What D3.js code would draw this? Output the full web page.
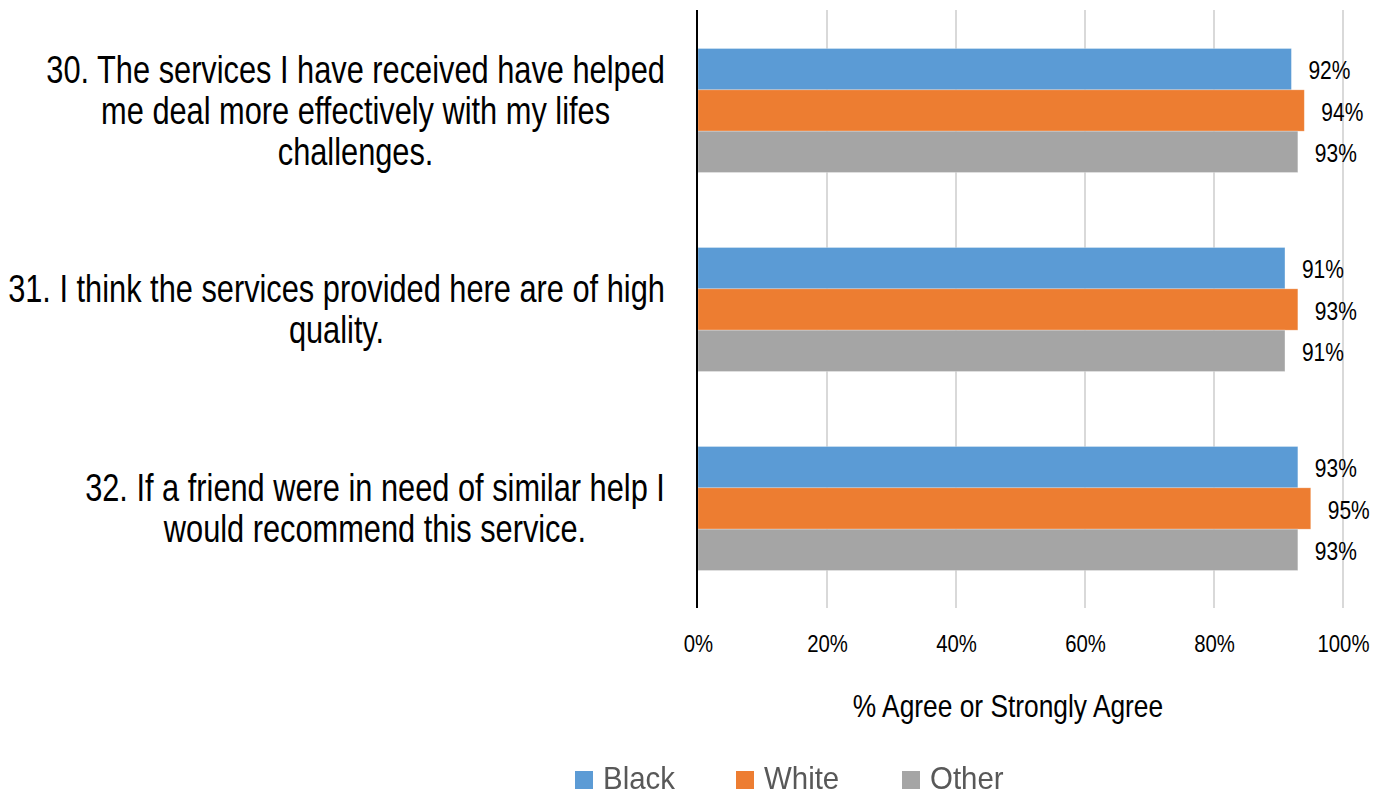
<!DOCTYPE html>
<html>
<head>
<meta charset="utf-8">
<script src="https://cdn.jsdelivr.net/npm/d3@7"></script>
<style>
  html, body { margin: 0; padding: 0; background: #fff; }
  svg { display: block; }
  text { font-family: "Liberation Sans", Arial, sans-serif; }
</style>
</head>
<body>
<svg id="chart" width="1376" height="795"></svg>
<script>
// Survey statements and their wrapped lines
const categories = [
  "30. The services I have received have helped me deal more effectively with my lifes challenges.",
  "31. I think the services provided here are of high quality.",
  "32. If a friend were in need of similar help I would recommend this service."
];
const categoryLines = [
  ["30. The services I have received have helped", "me deal more effectively with my lifes", "challenges."],
  ["31. I think the services provided here are of high", "quality."],
  ["32. If a friend were in need of similar help I", "would recommend this service."]
];
const seriesNames = ["Black", "White", "Other"];
const blackValues = [92, 91, 93];
const whiteValues = [94, 93, 95];
const otherValues = [93, 91, 93];
const seriesColors = ["#5B9BD5", "#ED7D31", "#A5A5A5"];
const tickValues = [0, 20, 40, 60, 80, 100];
const axisTitle = "% Agree or Strongly Agree";

const seriesValues = [blackValues, whiteValues, otherValues];
const rows = categories.map((c, i) => ({
  category: c,
  lines: categoryLines[i],
  values: seriesNames.map((s, j) => ({ series: s, value: seriesValues[j][i], color: seriesColors[j] }))
}));

// Condensed type: glyphs are squeezed horizontally to give a narrow face
const squeeze = k => k;

const svg = d3.select("#chart");

const plot = { left: 698, right: 1343, top: 11, bottom: 608 };

const x = d3.scaleLinear().domain([0, 100]).range([plot.left, plot.right]);
const y0 = d3.scaleBand().domain(categories).range([plot.top, plot.bottom])
  .paddingInner(0.377).paddingOuter(0.1885);
const y1 = d3.scaleBand().domain(seriesNames).range([0, y0.bandwidth()]);

// Vertical gridlines
svg.append("g")
  .selectAll("line")
  .data(tickValues.filter(t => t > 0))
  .join("line")
  .attr("x1", d => x(d)).attr("x2", d => x(d))
  .attr("y1", plot.top - 1).attr("y2", plot.bottom)
  .attr("stroke", "#d9d9d9")
  .attr("stroke-width", 2);

// Bars
const groups = svg.append("g")
  .selectAll("g")
  .data(rows)
  .join("g")
  .attr("transform", d => `translate(0,${y0(d.category)})`);

groups.selectAll("rect")
  .data(d => d.values)
  .join("rect")
  .attr("x", x(0))
  .attr("y", d => y1(d.series))
  .attr("width", d => x(d.value) - x(0))
  .attr("height", y1.bandwidth())
  .attr("fill", d => d.color)
  .attr("stroke", "#ffffff")
  .attr("stroke-opacity", 0.35)
  .attr("stroke-width", 0.75);

// Value labels
groups.selectAll("g.val")
  .data(d => d.values)
  .join("g")
  .attr("class", "val")
  .attr("transform", d => `translate(${x(d.value) + 17},${y1(d.series) + y1.bandwidth() / 2 + 10}) scale(${squeeze(0.84)},1)`)
  .append("text")
  .attr("font-size", 25)
  .attr("fill", "#000")
  .text(d => d.value + "%");

// Category axis line
svg.append("line")
  .attr("x1", plot.left - 1).attr("x2", plot.left - 1)
  .attr("y1", plot.top - 1).attr("y2", plot.bottom)
  .attr("stroke", "#000")
  .attr("stroke-width", 2);

// Bottom tick labels
const xAxis = d3.axisBottom(x)
  .tickValues(tickValues)
  .tickFormat(d => d + "%")
  .tickSize(0)
  .tickPadding(0);
const xg = svg.append("g")
  .attr("transform", `translate(0,${plot.bottom})`)
  .call(xAxis);
xg.select(".domain").remove();
xg.attr("font-family", null).attr("font-size", null);
xg.selectAll("text")
  .attr("dy", null)
  .attr("y", 0)
  .attr("transform", `translate(0,43.5) scale(${squeeze(0.83)},1)`)
  .attr("font-size", 24.5)
  .attr("fill", "#000");

// Axis title
svg.append("text")
  .attr("transform", `translate(1008,717) scale(${squeeze(0.85)},1)`)
  .attr("text-anchor", "middle")
  .attr("font-size", 31)
  .attr("fill", "#000")
  .text(axisTitle);

// Category labels: lines centered within a block whose right edge sits at x = 665
const lineGap = 41;
const labelRight = 665;
const labelScale = squeeze(0.81);
rows.forEach(r => {
  const cy = y0(r.category) + y0.bandwidth() / 2;
  const g = svg.append("g");
  const texts = g.selectAll("text")
    .data(r.lines)
    .join("text")
    .attr("font-size", 38)
    .attr("fill", "#000")
    .attr("text-anchor", "middle")
    .text(d => d);
  let maxW = 0;
  texts.each(function () { maxW = Math.max(maxW, this.getComputedTextLength() * labelScale); });
  texts.attr("transform", (d, i) =>
    `translate(${labelRight - maxW / 2},${cy + (i - (r.lines.length - 1) / 2) * lineGap + 13}) scale(${labelScale},1)`);
});

// Legend
const defs = svg.append("defs");
defs.append("filter").attr("id", "soft")
  .attr("x", "-5%").attr("y", "-20%").attr("width", "110%").attr("height", "140%")
  .append("feGaussianBlur").attr("stdDeviation", 0.6);

const legendItems = [
  { name: seriesNames[0], color: seriesColors[0], x: 575 },
  { name: seriesNames[1], color: seriesColors[1], x: 736 },
  { name: seriesNames[2], color: seriesColors[2], x: 902 }
];
const legend = svg.append("g").attr("filter", "url(#soft)");
const li = legend.selectAll("g")
  .data(legendItems)
  .join("g")
  .attr("transform", d => `translate(${d.x},0)`);
li.append("rect")
  .attr("x", 0).attr("y", 771)
  .attr("width", 18).attr("height", 18)
  .attr("fill", d => d.color);
li.append("text")
  .attr("transform", `translate(28,788.5) scale(${squeeze(0.95)},1)`)
  .attr("font-size", 31)
  .attr("fill", "#595959")
  .text(d => d.name);
</script>
</body>
</html>
